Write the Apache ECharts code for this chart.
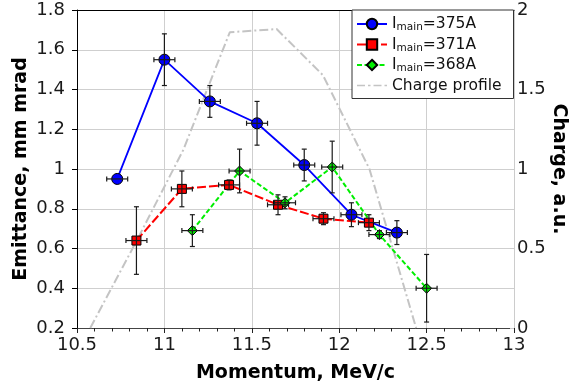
<!DOCTYPE html>
<html>
<head>
<meta charset="utf-8">
<script src="https://cdn.jsdelivr.net/npm/echarts@6/dist/echarts.min.js"></script>
<style>
	html,body{margin:0;padding:0;background:#fff;}
	#main{width:570px;height:388px;}
</style>
</head>
<body>
<div id="main"></div>
<script>
// emittance vs momentum, three magnet currents
var blueX = [10.73, 11.00, 11.26, 11.53, 11.80, 12.07, 12.33];
var blueY = [0.95, 1.55, 1.34, 1.23, 1.02, 0.77, 0.68];
var blueYErr = [0, 0.13, 0.08, 0.11, 0.08, 0.06, 0.06];
var blueXErr = [0.06, 0.06, 0.06, 0.06, 0.06, 0.06, 0.06];

var redX = [10.84, 11.10, 11.37, 11.65, 11.91, 12.17];
var redY = [0.64, 0.90, 0.92, 0.82, 0.75, 0.73];
var redYErr = [0.17, 0.09, 0.025, 0.05, 0.03, 0.04];
var redXErr = [0.06, 0.06, 0.06, 0.06, 0.06, 0.06];

var greenX = [11.16, 11.43, 11.69, 11.96, 12.23, 12.50];
var greenY = [0.69, 0.99, 0.83, 1.01, 0.67, 0.40];
var greenYErr = [0.08, 0.11, 0.03, 0.13, 0.02, 0.17];
var greenXErr = [0.06, 0.06, 0.06, 0.06, 0.06, 0.06];

// charge profile (right axis)
var chargeX = [10.576, 10.842, 11.108, 11.374, 11.642, 11.907, 12.173, 12.44];
var chargeY = [0, 0.55, 1.12, 1.86, 1.88, 1.59, 1.0, 0];

var names = ['Imain=375A', 'Imain=371A', 'Imain=368A', 'Charge profile'];
var font = 'DejaVu Sans';

var pairs = function(xs, ys){
	var out = [];
	for(var i = 0; i < xs.length; i++){
		out.push([xs[i], ys[i]]);
	}
	return out;
};
var errRows = function(xs, ys, xe, ye){
	var out = [];
	for(var i = 0; i < xs.length; i++){
		out.push([xs[i], ys[i], xe[i], ye[i]]);
	}
	return out;
};

// error bars with caps
var renderErr = function(params, api){
	var x = api.value(0), y = api.value(1), xe = api.value(2), ye = api.value(3);
	var c = api.coord([x, y]);
	var l = api.coord([x - xe, y]), r = api.coord([x + xe, y]);
	var st = {stroke: '#1a1a1a', lineWidth: 1.2};
	var cap = 2.5;
	var kids = [
		{type: 'line', shape: {x1: l[0], y1: c[1], x2: r[0], y2: c[1]}, style: st},
		{type: 'line', shape: {x1: l[0], y1: c[1] - cap, x2: l[0], y2: c[1] + cap}, style: st},
		{type: 'line', shape: {x1: r[0], y1: c[1] - cap, x2: r[0], y2: c[1] + cap}, style: st}
	];
	if(ye > 0){
		var t = api.coord([x, y + ye]), b = api.coord([x, y - ye]);
		kids.push({type: 'line', shape: {x1: c[0], y1: t[1], x2: c[0], y2: b[1]}, style: st});
		kids.push({type: 'line', shape: {x1: c[0] - cap, y1: t[1], x2: c[0] + cap, y2: t[1]}, style: st});
		kids.push({type: 'line', shape: {x1: c[0] - cap, y1: b[1], x2: c[0] + cap, y2: b[1]}, style: st});
	}
	return {type: 'group', children: kids};
};

var errSeries = function(rows){
	return {
		type: 'custom',
		renderItem: renderErr,
		data: rows,
		encode: {x: 0, y: 1},
		z: 5,
		silent: true
	};
};

// dash-dot legend icon, no marker
var dashDotIcon = 'path://M0,0h8v1.6h-8z M11,0h2.5v1.6h-2.5z M16.5,0h8v1.6h-8z M27.5,0h2.5v1.6h-2.5z';

var myChart = echarts.init(document.getElementById('main'));
var option = {
	animation: false,
	textStyle: {fontFamily: font},
	grid: {left: 77, right: 56, top: 10, bottom: 60, outerBoundsMode: 'none', containLabel: false},
	legend: {
		data: [names[0], names[1], names[2], {name: names[3], icon: dashDotIcon}],
		orient: 'vertical',
		left: 352,
		top: 10,
		padding: [6, 12, 5, 4],
		itemWidth: 30,
		itemHeight: 13,
		itemGap: 3.5,
		backgroundColor: '#fff',
		borderColor: '#333',
		borderWidth: 1,
		borderRadius: 0,
		formatter: function(name){
			if(name.indexOf('Imain') === 0){
				return '{n|I}{s|main}{n|' + name.slice(5) + '}';
			}
			return '{n|' + name + '}';
		},
		textStyle: {
			fontFamily: font,
			rich: {
				n: {fontSize: 15.5, color: '#111', lineHeight: 18, fontFamily: font},
				s: {fontSize: 10.5, color: '#111', lineHeight: 12, verticalAlign: 'bottom', fontFamily: font}
			}
		}
	},
	xAxis: [
		{
			type: 'value',
			min: 10.5,
			max: 13,
			interval: 0.5,
			name: 'Momentum, MeV/c',
			nameLocation: 'middle',
			nameGap: 36,
			nameMoveOverlap: false,
			nameTextStyle: {fontSize: 19, fontWeight: 'bold', color: '#000', fontFamily: font},
			axisLine: {lineStyle: {color: '#444', width: 1}},
			axisTick: {length: 5, lineStyle: {color: '#222'}},
			minorTick: {show: true, splitNumber: 5, length: 3.5, lineStyle: {color: '#222'}},
			axisLabel: {fontSize: 18, color: '#1a1a1a', margin: 8},
			splitLine: {show: true, lineStyle: {color: '#cfcfcf', width: 1}}
		},
		{
			// top frame line
			type: 'value',
			position: 'top',
			min: 10.5,
			max: 13,
			axisLine: {show: true, lineStyle: {color: '#000', width: 1}},
			axisTick: {show: false},
			axisLabel: {show: false},
			splitLine: {show: false}
		}
	],
	yAxis: [
		{
			type: 'value',
			min: 0.2,
			max: 1.8,
			interval: 0.2,
			name: 'Emittance, mm mrad',
			nameLocation: 'middle',
			nameGap: 46,
			nameMoveOverlap: false,
			nameTextStyle: {fontSize: 19, fontWeight: 'bold', color: '#000', fontFamily: font},
			axisLine: {show: true, lineStyle: {color: '#000', width: 1}},
			axisTick: {show: true, length: 5, lineStyle: {color: '#000'}},
			axisLabel: {fontSize: 18, color: '#1a1a1a', margin: 12,
				formatter: function(v){ return +v.toFixed(1) + ''; }},
			splitLine: {show: true, lineStyle: {color: '#cfcfcf', width: 1}}
		},
		{
			type: 'value',
			min: 0,
			max: 2,
			interval: 0.5,
			position: 'right',
			name: 'Charge, a.u.',
			nameLocation: 'middle',
			nameRotate: -90,
			nameGap: 35,
			nameMoveOverlap: false,
			nameTextStyle: {fontSize: 19, fontWeight: 'bold', color: '#000', fontFamily: font},
			axisLine: {show: true, lineStyle: {color: '#cccccc', width: 1}},
			axisTick: {show: true, inside: true, length: 4, lineStyle: {color: '#cccccc'}},
			axisLabel: {fontSize: 18, color: '#1a1a1a', margin: 3},
			splitLine: {show: false}
		}
	],
	series: [
		{
			name: names[3],
			type: 'line',
			yAxisIndex: 1,
			data: pairs(chargeX, chargeY),
			symbol: 'none',
			lineStyle: {color: '#c4c4c4', width: 2, type: [9, 3, 2, 3]},
			itemStyle: {color: '#c4c4c4'},
			z: 1
		},
		{
			name: names[0],
			type: 'line',
			data: pairs(blueX, blueY),
			symbol: 'circle',
			symbolSize: 11,
			lineStyle: {color: '#0000ff', width: 1.8},
			itemStyle: {color: '#0000ff', borderColor: '#000', borderWidth: 1},
			z: 3
		},
		{
			name: names[1],
			type: 'line',
			data: pairs(redX, redY),
			symbol: 'rect',
			symbolSize: 9,
			lineStyle: {color: '#ff0000', width: 2, type: [9, 3]},
			itemStyle: {color: '#ff0000', borderColor: '#000', borderWidth: 1},
			z: 3
		},
		{
			name: names[2],
			type: 'line',
			data: pairs(greenX, greenY),
			symbol: 'diamond',
			symbolSize: 10,
			lineStyle: {color: '#00ee00', width: 2, type: [5, 2.5]},
			itemStyle: {color: '#00ee00', borderColor: '#000', borderWidth: 1},
			z: 3
		},
		errSeries(errRows(blueX, blueY, blueXErr, blueYErr)),
		errSeries(errRows(redX, redY, redXErr, redYErr)),
		errSeries(errRows(greenX, greenY, greenXErr, greenYErr))
	]
};
myChart.setOption(option);
</script>
</body>
</html>
